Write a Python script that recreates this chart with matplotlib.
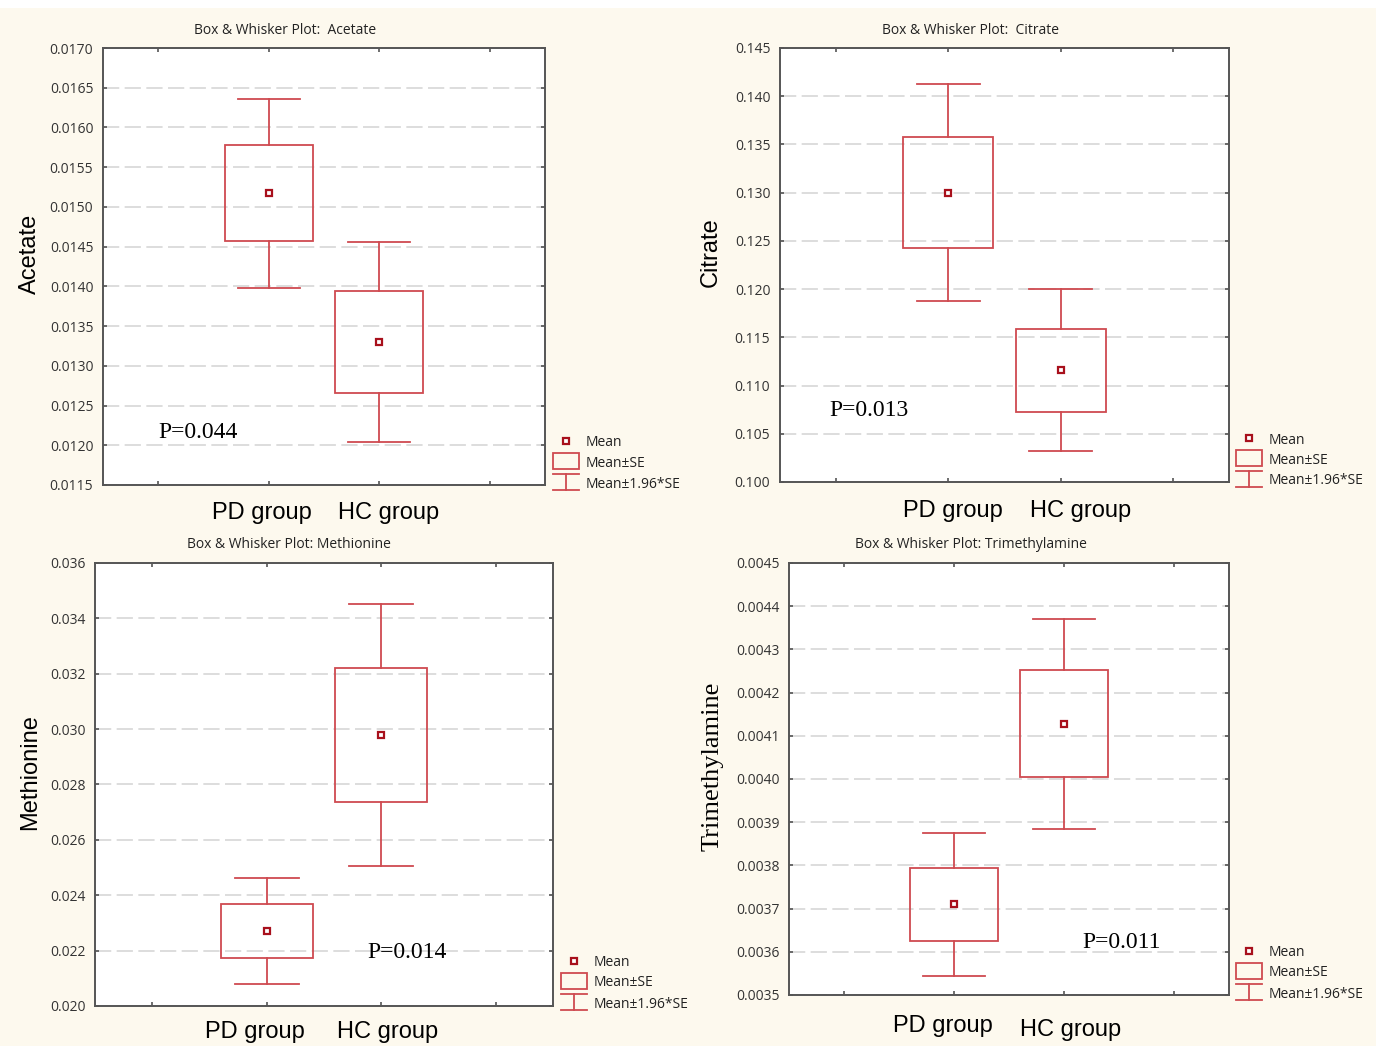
import numpy as np
import matplotlib
matplotlib.use("Agg")
import matplotlib.pyplot as plt
from matplotlib.patches import Rectangle
from matplotlib.lines import Line2D
from matplotlib.ticker import FormatStrFormatter, MultipleLocator

W, H = 1380, 1046

groups = ["PD group", "HC group"]

# group means and standard errors (box = mean±SE, whiskers = mean±1.96*SE)
acetate_mean = [0.01517, 0.01330]
acetate_se = [0.000605, 0.000645]
citrate_mean = [0.1300, 0.1116]
citrate_se = [0.00575, 0.0043]
methionine_mean = [0.02272, 0.02978]
methionine_se = [0.00098, 0.00241]
tma_mean = [0.003710, 0.004128]
tma_se = [0.0000845, 0.000124]

p_values = ["P=0.044", "P=0.013", "P=0.014", "P=0.011"]

RED = "#cf4a50"
DARK_RED = "#a8101c"
CREAM = "#fdf9ee"
SPINE = "#555555"
GRID = "#dadada"
TXT_DY = 2  # text baseline nudge, px


def fx(x):
    return x / W


def fy(y):
    return 1 - y / H


panels = [
    dict(name="Acetate", mean=acetate_mean, se=acetate_se, ylim=(0.0115, 0.0170), step=0.0005,
         fmt="%.4f", box=(103, 48, 545, 485), title_xy=(285, 28), title="Box & Whisker Plot:  Acetate",
         ylab_x=30, grp_xy=[(262, 511), (389, 511)], p_xy=(198, 431), leg=(566, 441, 586),
         ylab_font="Liberation Sans", ylab_size=17),
    dict(name="Citrate", mean=citrate_mean, se=citrate_se, ylim=(0.100, 0.145), step=0.005,
         fmt="%.3f", box=(780, 48, 1229, 482), title_xy=(971, 28), title="Box & Whisker Plot:  Citrate",
         ylab_x=711, grp_xy=[(953, 509), (1081, 509)], p_xy=(869, 408), leg=(1249, 438, 1269),
         ylab_font="Liberation Sans", ylab_size=17),
    dict(name="Methionine", mean=methionine_mean, se=methionine_se, ylim=(0.020, 0.036), step=0.002,
         fmt="%.3f", box=(95, 563, 553, 1006), title_xy=(289, 543), title="Box & Whisker Plot: Methionine",
         ylab_x=30, grp_xy=[(255, 1030), (388, 1030)], p_xy=(407, 951), leg=(574, 961, 594),
         ylab_font="Liberation Sans", ylab_size=17),
    dict(name="Trimethylamine", mean=tma_mean, se=tma_se, ylim=(0.0035, 0.0045), step=0.0001,
         fmt="%.4f", box=(789, 563, 1229, 995), title_xy=(971, 542), title="Box & Whisker Plot: Trimethylamine",
         ylab_x=713, grp_xy=[(943, 1024), (1071, 1028)], p_xy=(1122, 940), leg=(1249, 951, 1269),
         ylab_font="Liberation Serif", ylab_size=19),
]

fig = plt.figure(figsize=(W / 100, H / 100), dpi=100, facecolor=CREAM)

# thin white frame around the sheet
fig.add_artist(Rectangle((0, fy(8)), 1, 1 - fy(8), transform=fig.transFigure, fc="white", ec="none"))
fig.add_artist(Rectangle((fx(1376), 0), 1, 1, transform=fig.transFigure, fc="white", ec="none"))

for k, p in enumerate(panels):
    l, t, r, b = p["box"]
    ax = fig.add_axes([fx(l), fy(b), fx(r) - fx(l), fy(t) - fy(b)])
    ax.set_facecolor("white")
    ax.set_xlim(-0.5, 3.5)
    ax.set_ylim(*p["ylim"])

    xs = np.arange(1, len(groups) + 1)
    for x, m, s in zip(xs, p["mean"], p["se"]):
        lo_se, hi_se = m - s, m + s
        lo_ci, hi_ci = m - 1.96 * s, m + 1.96 * s
        ax.add_patch(Rectangle((x - 0.4, lo_se), 0.8, 2 * s, fill=False, ec=RED, lw=1.3, zorder=3))
        ax.plot([x, x], [hi_se, hi_ci], color=RED, lw=1.3, zorder=3)
        ax.plot([x, x], [lo_ci, lo_se], color=RED, lw=1.3, zorder=3)
        ax.plot([x - 0.28, x + 0.28], [hi_ci, hi_ci], color=RED, lw=1.3, zorder=3)
        ax.plot([x - 0.28, x + 0.28], [lo_ci, lo_ci], color=RED, lw=1.3, zorder=3)
        ax.plot(x, m, marker="s", ms=5, mfc="white", mec=DARK_RED, mew=1.6, zorder=4)

    ax.yaxis.set_major_locator(MultipleLocator(p["step"]))
    ax.yaxis.set_major_formatter(FormatStrFormatter(p["fmt"]))
    ax.set_xticks([0, 1, 2, 3])
    ax.set_xticklabels([])
    ax.tick_params(axis="both", direction="in", length=3, width=1.2, color=SPINE,
                   top=True, right=True, pad=7)
    for lab in ax.get_yticklabels():
        lab.set_fontfamily("Open Sans")
        lab.set_fontsize(10)
        lab.set_color("#333333")

    ax.grid(axis="y", color=GRID, lw=1.3, linestyle=(0, (9, 3)))
    ax.set_axisbelow(True)
    for sp in ax.spines.values():
        sp.set_color(SPINE)
        sp.set_linewidth(1.4)

    # header, axis title, group names
    fig.text(fx(p["title_xy"][0]), fy(p["title_xy"][1] + TXT_DY), p["title"], ha="center", va="center",
             fontsize=10, family="Open Sans", color="#222222")
    fig.text(fx(p["ylab_x"]), (fy(t) + fy(b)) / 2 + 0.012, p["name"], rotation=90, ha="center",
             va="center", fontsize=p["ylab_size"], family=p["ylab_font"], color="black")
    for g, (gx, gy) in zip(groups, p["grp_xy"]):
        fig.text(fx(gx), fy(gy + TXT_DY), g, ha="center", va="center", fontsize=17,
                 family="Liberation Sans", color="black")
    fig.text(fx(p["p_xy"][0]), fy(p["p_xy"][1] + TXT_DY), p_values[k], ha="center", va="center",
             fontsize=17, family="Liberation Serif", color="black")

    # legend symbols
    mx, my, tx = p["leg"]
    fig.add_artist(Line2D([fx(mx)], [fy(my)], marker="s", ms=5, mfc="white", mec=DARK_RED,
                          mew=1.6, transform=fig.transFigure))
    bx0, bx1 = mx - 13, mx + 13
    fig.add_artist(Rectangle((fx(bx0), fy(my + 28)), fx(bx1) - fx(bx0), fy(my + 12) - fy(my + 28),
                             transform=fig.transFigure, fill=False, ec=RED, lw=1.3))
    w_top, w_bot = my + 33, my + 49
    fig.add_artist(Line2D([fx(bx0), fx(bx1)], [fy(w_top)] * 2, color=RED, lw=1.3, transform=fig.transFigure))
    fig.add_artist(Line2D([fx(bx0), fx(bx1)], [fy(w_bot)] * 2, color=RED, lw=1.3, transform=fig.transFigure))
    fig.add_artist(Line2D([fx(mx)] * 2, [fy(w_top), fy(w_bot)], color=RED, lw=1.3, transform=fig.transFigure))
    for txt, dy in zip(["Mean", "Mean±SE", "Mean±1.96*SE"], [0, 20, 41]):
        fig.text(fx(tx), fy(my + dy + TXT_DY), txt, ha="left", va="center", fontsize=10,
                 family="Open Sans", color="#222222")

fig.savefig("out.png", dpi=100, facecolor=fig.get_facecolor())
